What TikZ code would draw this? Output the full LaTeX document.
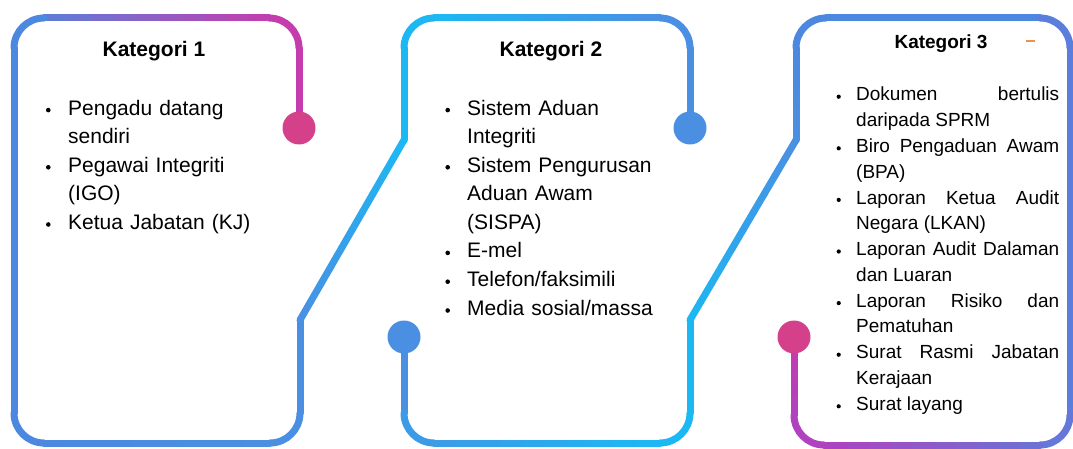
\documentclass[tikz,border=0pt]{standalone}
\usepackage{fontspec}
\setmainfont{Liberation Sans}
\usetikzlibrary{calc}

\definecolor{pinkdot}{HTML}{D4418A}
\definecolor{magenta1}{HTML}{C43CAE}
\definecolor{purple1}{HTML}{B042C0}
\definecolor{blue1}{HTML}{4C88E0}
\definecolor{blue2}{HTML}{4A8FE2}
\definecolor{cyan1}{HTML}{1CB8F4}
\definecolor{orange1}{HTML}{F0904A}

\tikzset{
  wire/.style={line width=7pt, line cap=round},
  corner/.style={wire, rounded corners=30pt},
  head/.style={anchor=base, font=\bfseries\fontsize{21}{25}\selectfont},
  item/.style={anchor=north west, inner sep=0pt, text width=250pt, align=left,
    font=\fontsize{21}{28.4}\selectfont},
  itemj/.style={anchor=north west, inner sep=0pt, text width=203pt, align=justify,
    font=\fontsize{19}{25.6}\selectfont},
}

% stroke from #1 to #2, colour running from #3 to #4
\newcommand{\gline}[4]{%
  \foreach \k in {1,...,10} {%
    \pgfmathtruncatemacro{\p}{(\k-0.5)*10}%
    \draw[wire, #4!\p!#3] ($(#1)!{(\k-1)/10}!(#2)$) -- ($(#1)!{\k/10}!(#2)$);
  }}

\begin{document}
\begin{tikzpicture}[x=1pt, y=-1pt]
  \useasboundingbox (0,0) rectangle (1073,449);

  % first line: round kategori 1, up into kategori 2
  \coordinate (a0) at (299,128);
  \coordinate (a1) at (299,48);
  \coordinate (a2) at (269,18);
  \coordinate (a3) at (44,18);
  \coordinate (a4) at (14,48);
  \coordinate (a5) at (14,413);
  \coordinate (a6) at (44,443);
  \coordinate (a7) at (270,443);
  \coordinate (a8) at (300,413);
  \coordinate (a9) at (300,320);
  \coordinate (a10) at (404,140);
  \coordinate (a11) at (404,48);
  \coordinate (a12) at (434,18);
  \coordinate (a13) at (660,18);
  \coordinate (a14) at (690,48);
  \coordinate (a15) at (690,128);

  \draw[wire, magenta1] (a0) -- (a1);
  \draw[corner, magenta1] (a1) -- (a1 |- a2) -- (a2);
  \gline{a2}{a3}{magenta1}{blue1!85!magenta1}
  \draw[corner, blue1] (a3) -- (a4 |- a3) -- (a4);
  \draw[wire, blue1] (a4) -- (a5);
  \draw[corner, blue1] (a5) -- (a5 |- a6) -- (a6);
  \gline{a6}{a7}{blue1}{blue2}
  \draw[corner, blue2] (a7) -- (a8 |- a7) -- (a8);
  \draw[wire, blue2] (a8) -- (a9);
  \gline{a9}{a10}{blue2}{cyan1}
  \draw[wire, cyan1] (a10) -- (a11);
  \draw[corner, cyan1] (a11) -- (a11 |- a12) -- (a12);
  \gline{a12}{a13}{cyan1}{blue2}
  \draw[corner, blue2] (a13) -- (a14 |- a13) -- (a14);
  \draw[wire, blue2] (a14) -- (a15);
  \fill[pinkdot] (a0) circle (16.5);
  \fill[blue2] (a15) circle (16.5);

  % second line: under kategori 2, round kategori 3
  \coordinate (b0) at (404,337);
  \coordinate (b1) at (404,413);
  \coordinate (b2) at (434,443);
  \coordinate (b3) at (660,443);
  \coordinate (b4) at (690,413);
  \coordinate (b5) at (690,320);
  \coordinate (b6) at (796,140);
  \coordinate (b7) at (796,48);
  \coordinate (b8) at (826,18);
  \coordinate (b9) at (1040,18);
  \coordinate (b10) at (1070,48);
  \coordinate (b11) at (1070,415);
  \coordinate (b12) at (1040,445);
  \coordinate (b13) at (824,445);
  \coordinate (b14) at (794,415);
  \coordinate (b15) at (794,337);

  \draw[wire, blue2] (b0) -- (b1);
  \draw[corner, blue2!70!cyan1] (b1) -- (b1 |- b2) -- (b2);
  \gline{b2}{b3}{blue2!70!cyan1}{cyan1}
  \draw[corner, cyan1] (b3) -- (b4 |- b3) -- (b4);
  \draw[wire, cyan1] (b4) -- (b5);
  \gline{b5}{b6}{cyan1}{blue2}
  \gline{b6}{b7}{blue2}{blue1}
  \draw[corner, blue1] (b7) -- (b7 |- b8) -- (b8);
  \draw[wire, blue1] (b8) -- (b9);
  \draw[corner, blue1!85!purple1] (b9) -- (b10 |- b9) -- (b10);
  \draw[wire, blue1!85!purple1] (b10) -- (b11);
  \draw[corner, blue1!75!purple1] (b11) -- (b11 |- b12) -- (b12);
  \gline{b12}{b13}{blue1!70!purple1}{purple1}
  \draw[corner, purple1] (b13) -- (b14 |- b13) -- (b14);
  \gline{b14}{b15}{purple1}{magenta1}
  \fill[blue2] (b0) circle (16.5);
  \fill[pinkdot] (b15) circle (16.5);

  \draw[orange1, line width=2pt] (1026,41.5) -- (1035,41.5);

  % kategori 1
  \node[head] (h1) at (154,57) {Kategori 1};
  \node[item] (k1a) at (68,95.1) {\strut Pengadu datang\\sendiri\strut};
  \node[item] (k1b) at (k1a.south west) {\strut Pegawai Integriti\\(IGO)\strut};
  \node[item] (k1c) at (k1b.south west) {\strut Ketua Jabatan (KJ)\strut};
  \foreach \n in {k1a,k1b,k1c}
    \fill (\n.north west) ++(-19.7,15) circle (2.3);

  % kategori 2
  \node[head] (h2) at (551,57) {Kategori 2};
  \node[item] (k2a) at (467,95.1) {\strut Sistem Aduan\\Integriti\strut};
  \node[item] (k2b) at (k2a.south west) {\strut Sistem Pengurusan\\Aduan Awam\\(SISPA)\strut};
  \node[item] (k2c) at (k2b.south west) {\strut E-mel\strut};
  \node[item] (k2d) at (k2c.south west) {\strut Telefon/faksimili\strut};
  \node[item] (k2e) at (k2d.south west) {\strut Media sosial/massa\strut};
  \foreach \n in {k2a,k2b,k2c,k2d,k2e}
    \fill (\n.north west) ++(-19.3,15) circle (2.3);

  % kategori 3
  \node[head, font=\bfseries\fontsize{19}{23}\selectfont] (h3) at (941,48.8) {Kategori 3};
  \node[itemj] (k3a) at (856,82.8) {\strut Dokumen bertulis\linebreak daripada SPRM\strut};
  \node[itemj] (k3b) at (k3a.south west) {\strut Biro Pengaduan Awam\linebreak (BPA)\strut};
  \node[itemj] (k3c) at (k3b.south west) {\strut Laporan Ketua Audit\linebreak Negara (LKAN)\strut};
  \node[itemj] (k3d) at (k3c.south west) {\strut Laporan Audit Dalaman\linebreak dan Luaran\strut};
  \node[itemj] (k3e) at (k3d.south west) {\strut Laporan Risiko dan\linebreak Pematuhan\strut};
  \node[itemj] (k3f) at (k3e.south west) {\strut Surat Rasmi Jabatan\linebreak Kerajaan\strut};
  \node[itemj] (k3g) at (k3f.south west) {\strut Surat layang\strut};
  \foreach \n in {k3a,k3b,k3c,k3d,k3e,k3f,k3g}
    \fill (\n.north west) ++(-17.3,13.9) circle (2.1);
\end{tikzpicture}
\end{document}
